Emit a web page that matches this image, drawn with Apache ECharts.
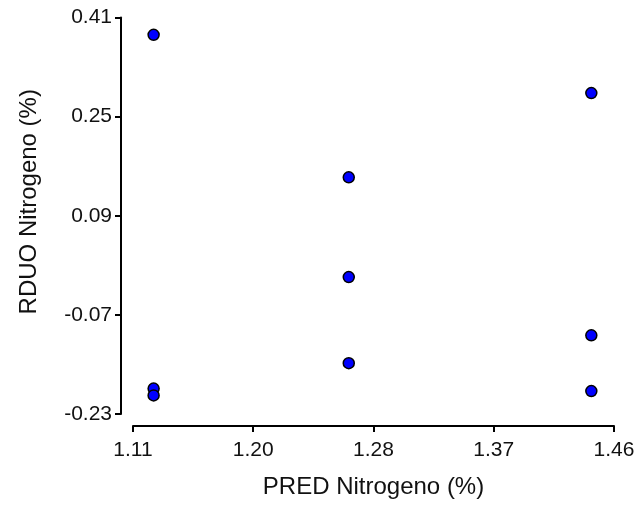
<!DOCTYPE html>
<html>
<head>
<meta charset="utf-8">
<script src="https://cdn.jsdelivr.net/npm/echarts@6/dist/echarts.min.js"></script>
<style>
  html, body { margin: 0; padding: 0; background: #fff; }
  #chart { width: 643px; height: 506px; }
</style>
</head>
<body>
<div id="chart"></div>
<script>
// predicted vs residual values
const predN = [1.125, 1.125, 1.125, 1.267, 1.267, 1.267, 1.4435, 1.4435, 1.4435]
const resN = [0.382, -0.189, -0.200, 0.152, -0.009, -0.148, 0.288, -0.103, -0.193]

const xTicks = ['1.11', '1.20', '1.28', '1.37', '1.46']
const yTicks = ['-0.23', '-0.07', '0.09', '0.25', '0.41']

const chart = echarts.init(document.getElementById('chart'))

const axisCommon = {
  axisLine: { show: true, onZero: false, lineStyle: { color: '#000', width: 2 } },
  axisTick: { show: true, length: 6, lineStyle: { color: '#000', width: 2 } },
  splitLine: { show: false },
  nameLocation: 'middle'
}

chart.setOption({
  animation: false,
  grid: { left: 133, right: 29, top: 17.5, bottom: 92 },
  xAxis: {
    ...axisCommon,
    type: 'value',
    min: 1.11,
    max: 1.46,
    interval: 0.0875,
    offset: 12,
    name: 'PRED Nitrogeno (%)',
    nameGap: 49,
    nameTextStyle: { fontFamily: 'Liberation Sans', fontSize: 24, color: '#111' },
    axisLabel: {
      margin: 14,
      fontFamily: 'Liberation Sans',
      fontSize: 21,
      color: '#111',
      formatter: (v, i) => xTicks[i]
    }
  },
  yAxis: {
    ...axisCommon,
    type: 'value',
    min: -0.23,
    max: 0.41,
    interval: 0.16,
    offset: 12,
    name: 'RDUO Nitrogeno (%)',
    nameGap: 80,
    nameTextStyle: { fontFamily: 'Liberation Sans', fontSize: 24, color: '#111', padding: [0, 0, 0, 28] },
    axisLabel: {
      margin: 9,
      fontFamily: 'Liberation Sans',
      fontSize: 21,
      color: '#111',
      formatter: (v, i) => yTicks[i]
    }
  },
  series: [
    {
      type: 'scatter',
      symbolSize: 11,
      itemStyle: { color: '#0000ff', opacity: 1, borderColor: '#000', borderWidth: 1.5 },
      data: predN.map((x, i) => [x, resN[i]])
    }
  ]
})
</script>
</body>
</html>
